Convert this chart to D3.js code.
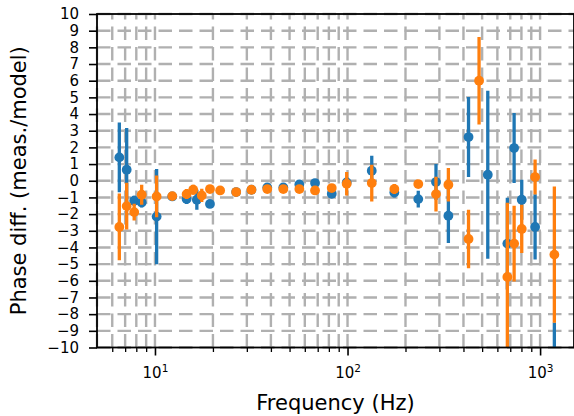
<!DOCTYPE html>
<html><head><meta charset="utf-8">
<script src="https://cdn.jsdelivr.net/npm/d3@7"></script>
<style>body{margin:0;background:#fff}svg{display:block}text{font-family:"DejaVu Sans",sans-serif}</style>
</head><body>
<svg id="c" width="574" height="416"></svg>
<script>
// Series 1 (blue)
const blueFreq = [6.53,7.13,7.8,8.53,10.2,12.3,14.6,16.5,19.3,26.4,31.7,38.3,46.4,56.2,67.8,82.8,99,133.6,175,233,288,334,425,535,676,733,803,942,1186];
const blueVal  = [1.40,0.66,-1.2,-1.3,-2.15,-0.94,-1.10,-1.14,-1.39,-0.68,-0.54,-0.40,-0.40,-0.22,-0.14,-0.78,-0.10,0.60,-0.70,-1.10,-0.08,-2.10,2.62,0.36,-3.77,1.96,-1.14,-2.77,-13.0];
const blueErr  = [2.09,2.5,0.3,0.3,2.85,0.2,0.3,0.6,0.2,0.1,0.1,0.15,0.15,0.2,0.2,0.25,0.3,0.9,0.3,0.5,1.08,1.63,2.4,5.04,2.75,2.1,1.2,1.96,4.5];
// Series 2 (orange)
const orangeFreq = [6.53,7.13,7.8,8.53,10.2,12.3,14.6,15.8,17.5,19.3,21.8,26.4,31.7,38.3,46.4,56.2,67.8,82.8,99,133.6,175,233,288,334,425,482,676,733,803,942,1186];
const orangeVal  = [-2.77,-1.52,-1.88,-0.84,-0.94,-0.92,-0.80,-0.54,-0.88,-0.50,-0.58,-0.68,-0.54,-0.50,-0.50,-0.50,-0.58,-0.44,-0.18,-0.14,-0.50,-0.20,-0.80,-0.24,-3.49,6.0,-5.77,-3.77,-2.89,0.22,-4.43];
const orangeErr  = [2.0,1.4,0.5,0.6,1.25,0.2,0.3,0.3,0.4,0.2,0.2,0.15,0.15,0.15,0.15,0.15,0.15,0.15,0.7,1.1,0.3,0.2,1.04,1.0,1.75,2.62,4.45,2.27,1.45,1.05,4.09];
const yTicks = d3.range(-10, 11, 1);
const xMajor = [10, 100, 1000];
const xMinor = [5,6,7,8,9,20,30,40,50,60,70,80,90,200,300,400,500,600,700,800,900];

const svg = d3.select("#c");
const L = 97, R = 574, T = 14, B = 347.5;
const x = d3.scaleLog().domain([5, 1500]).range([L, R]);
const y = d3.scaleLinear().domain([-10, 10]).range([B, T]);

svg.append("defs").append("clipPath").attr("id","clip")
  .append("rect").attr("x",L).attr("y",T).attr("width",R-L).attr("height",B-T);

const grid = svg.append("g").attr("stroke","#b0b0b0").attr("stroke-width",2.4)
  .attr("stroke-dasharray","13.5,7").attr("fill","none");
yTicks.forEach(v => grid.append("line").attr("x1",L).attr("x2",R).attr("y1",y(v)).attr("y2",y(v)));
xMajor.concat(xMinor).forEach(f => grid.append("line").attr("x1",x(f)).attr("x2",x(f)).attr("y1",B).attr("y2",T));

function series(fr, val, err, color) {
  const g = svg.append("g").attr("clip-path","url(#clip)");
  const d = fr.map((f,i)=>({f, v:val[i], e:err[i]}));
  g.selectAll("line").data(d).join("line")
    .attr("x1",p=>x(p.f)).attr("x2",p=>x(p.f))
    .attr("y1",p=>y(p.v-p.e)).attr("y2",p=>y(p.v+p.e))
    .attr("stroke",color).attr("stroke-width",3.3);
  g.selectAll("circle").data(d).join("circle")
    .attr("cx",p=>x(p.f)).attr("cy",p=>y(p.v)).attr("r",4.9).attr("fill",color);
}
series(blueFreq, blueVal, blueErr, "#1f77b4");
series(orangeFreq, orangeVal, orangeErr, "#ff7f0e");

// spines
const sp = svg.append("g").attr("stroke","#000").attr("stroke-width",1.8).attr("fill","none");
sp.append("rect").attr("x",L).attr("y",T).attr("width",R-L).attr("height",B-T);

// y axis
const ya = svg.append("g").attr("transform",`translate(${L},0)`)
  .call(d3.axisLeft(y).tickValues(yTicks).tickSize(8).tickPadding(10).tickFormat(d=>d3.format("")(d).replace("-","\u2212")));
ya.select(".domain").remove();
ya.selectAll("line").attr("stroke-width",1.6);
ya.selectAll("text").attr("font-size",15).attr("fill","#000");

// x axis
const xa = svg.append("g").attr("transform",`translate(0,${B})`)
  .call(d3.axisBottom(x).tickValues(xMajor).tickSize(8).tickPadding(12).tickFormat(()=>""));
xa.select(".domain").remove();
xa.selectAll("line").attr("stroke-width",1.6);
xa.selectAll(".tick text").each(function(d){
  const t = d3.select(this).attr("font-size",15).attr("fill","#000");
  t.append("tspan").text("10");
  t.append("tspan").attr("dy",-6).attr("font-size",10.5).text(String(Math.round(Math.log10(d))));
});
const xm = svg.append("g").attr("transform",`translate(0,${B})`)
  .call(d3.axisBottom(x).tickValues(xMinor.filter(f=>f>5)).tickSize(4.5).tickFormat(()=>""));
xm.select(".domain").remove();
xm.selectAll("line").attr("stroke-width",1.3);

svg.append("text").attr("x",(L+R)/2).attr("y",410).attr("text-anchor","middle")
  .attr("font-size",21).text("Frequency (Hz)");
svg.append("text").attr("transform",`translate(26,${(T+B)/2}) rotate(-90)`).attr("text-anchor","middle")
  .attr("font-size",21).text("Phase diff. (meas./model)");
</script>
</body></html>
